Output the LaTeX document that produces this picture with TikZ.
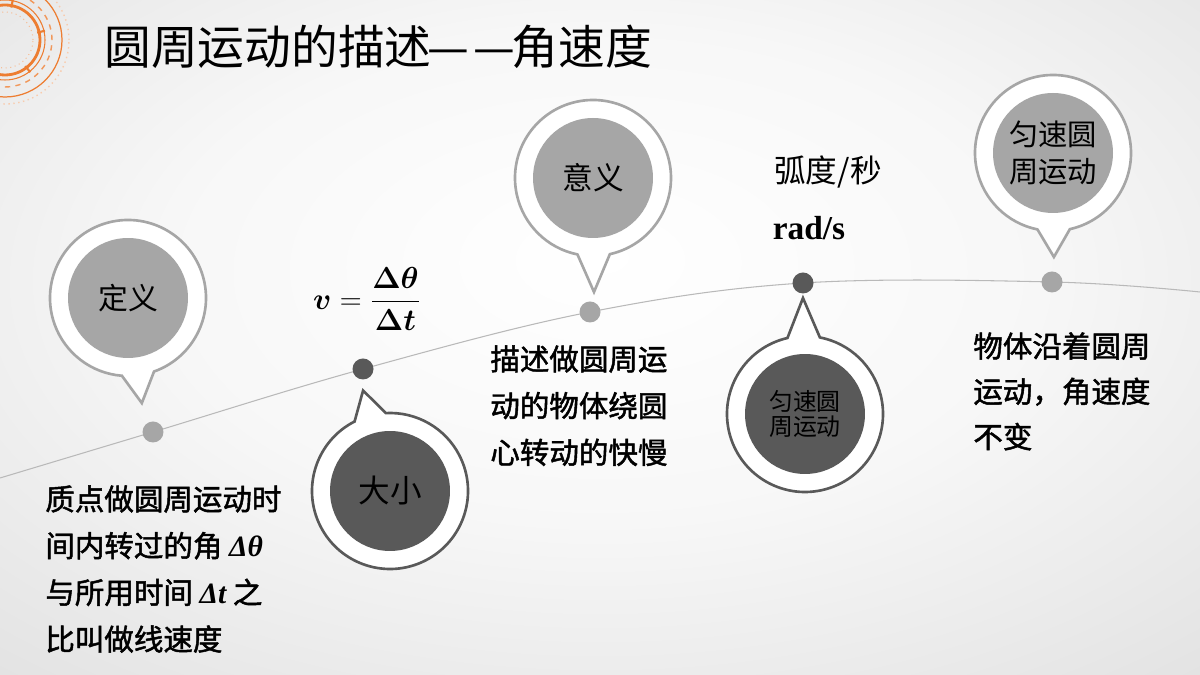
\documentclass[tikz,border=0pt]{standalone}
\usepackage{fontspec}
\usepackage{amsmath}
\newfontfamily\cjk{Noto Sans CJK SC}
\newfontfamily\cjkb[FakeBold=1.6]{Noto Sans CJK SC}
\newfontfamily\tnr{Liberation Serif}
\usetikzlibrary{calc}
\definecolor{slgray}{HTML}{A6A6A6}
\definecolor{sldark}{HTML}{595959}
\definecolor{slorange}{HTML}{ED7D31}
\pgfdeclareradialshading{slidebg}{\pgfpoint{0bp}{6bp}}{color(0bp)=(white); color(18bp)=(white!97!black); color(50bp)=(white!84!black); color(80bp)=(white!78!black)}
% ring of a pin: centre, tip angle, tip distance, colour
\newcommand{\pinring}[4]{\draw[ring, draw=#4] ($(#1)+(#2+12:78)$) arc[start angle=#2+12, end angle=#2+348, radius=78] -- ($(#1)+(#2:#3)$) -- cycle;}
\newcommand{\omegafrac}{$\displaystyle\boldsymbol{v}=\frac{\boldsymbol{\Delta\theta}}{\boldsymbol{\Delta t}}$}

\begin{document}
\begin{tikzpicture}[x=0.02cm, y=0.02cm,
    ring/.style={line width=1.5pt, fill=white},
    lightdisc/.style={circle, fill=slgray, minimum size=2.4cm, inner sep=0pt},
    darkdisc/.style={circle, fill=sldark, minimum size=2.4cm, inner sep=0pt},
    lightdot/.style={circle, fill=slgray, minimum size=0.42cm, inner sep=0pt},
    darkdot/.style={circle, fill=sldark, minimum size=0.42cm, inner sep=0pt},
    bodytext/.style={anchor=north west, inner sep=0pt, align=left, font=\cjkb\fontsize{16.8}{26.6}\selectfont}]
      % Slide background
      \path[shading=slidebg] (0,0) rectangle (1200,675);
      \useasboundingbox (0,0) rectangle (1200,675);

      % Logo
      \begin{scope}
        \clip (0,0) rectangle (1200,675);
        \coordinate (logo) at (5,635);
        \draw[slorange!50, dotted, line width=0.6pt] (logo) circle[radius=28];
        \draw[slorange, line width=1.6pt] (logo) circle[radius=35];
        \draw[slorange, line width=0.6pt] (logo) circle[radius=40];
        \draw[slorange!80, dashed, line width=0.8pt] (logo) circle[radius=47];
        \draw[slorange, line width=0.7pt] (logo) circle[radius=57];
        \draw[slorange!40, dotted, line width=0.8pt] (logo) circle[radius=64];
        \foreach \a in {79,13,-52}
          \draw[slorange, line width=1.2pt] ($(logo)+(\a:33)$) -- ($(logo)+(\a:41)$);
      \end{scope}

      % Title
      \node[anchor=west, inner sep=0pt, font=\cjk\fontsize{26.6}{30}\selectfont] (title) at (104,628) {圆周运动的描述\kern-2pt—\kern2pt—\kern-2pt角速度};

      % Time line
      \coordinate (lstart) at (0,197);
      \coordinate (lend) at (1200,383);
      \coordinate (p1) at (153,243);
      \coordinate (p2) at (363,306);
      \coordinate (p3) at (590,363);
      \coordinate (p4) at (803,392);
      \coordinate (p5) at (1052,393);
      \draw[gray!55, line width=0.6pt] plot[smooth, tension=0.6] coordinates {(lstart) (p1) (p2) (p3) (p4) (p5) (lend)};
      \node[lightdot] (d1) at (p1) {};
      \node[darkdot] (d2) at (p2) {};
      \node[lightdot] (d3) at (p3) {};
      \node[darkdot] (d4) at (p4) {};
      \node[lightdot] (d5) at (p5) {};

      % Definition
      \coordinate (defc) at (128,377);
      \pinring{defc}{-82.5}{106}{slgray}
      \node[lightdisc, font=\cjk\fontsize{17}{20}\selectfont] (def) at (defc) {定义};

      % Magnitude
      \coordinate (magc) at (390,184);
      \pinring{magc}{105}{104}{sldark}
      \node[darkdisc, font=\cjk\fontsize{18}{20}\selectfont] (mag) at (magc) {大小};

      % Meaning
      \coordinate (meac) at (593,497);
      \pinring{meac}{-89.5}{114}{slgray}
      \node[lightdisc, font=\cjk\fontsize{17.5}{20}\selectfont] (mea) at (meac) {意义};

      % Uniform motion (below)
      \coordinate (unic) at (805,261);
      \pinring{unic}{91}{116}{sldark}
      \node[darkdisc, align=center, font=\cjk\fontsize{13.6}{14.7}\selectfont] (uni) at (unic) {匀速圆\\周运动};

      % Uniform motion (top)
      \coordinate (topc) at (1053,522);
      \pinring{topc}{-89.5}{104}{slgray}
      \node[lightdisc, align=center, font=\cjk\fontsize{16.7}{21}\selectfont] (unitop) at (topc) {匀速圆\\周运动};

      % Formula and unit
      \node[font=\fontsize{18}{22}\selectfont] (omega) at (367,376) {\omegafrac};
      \node[font=\cjk\fontsize{18}{20}\selectfont] (unitcn) at (828,503) {弧度/秒};
      \node[font=\tnr\bfseries\fontsize{19}{22}\selectfont] (unit) at (809,447) {rad/s};

      % Texts
      \node[bodytext] (deftext) at (45,190) {质点做圆周运动时\\间内转过的角 {\tnr\bfseries\itshape Δθ}\\与所用时间 {\tnr\bfseries\itshape Δt} 之\\比叫做线速度};
      \node[bodytext] (meatext) at (490,330) {描述做圆周运\\动的物体绕圆\\心转动的快慢};
      \node[bodytext, font=\cjkb\fontsize{16.8}{25.8}\selectfont] (toptext) at (973,343) {物体沿着圆周\\运动，角速度\\不变};
    \end{tikzpicture}
\end{document}
